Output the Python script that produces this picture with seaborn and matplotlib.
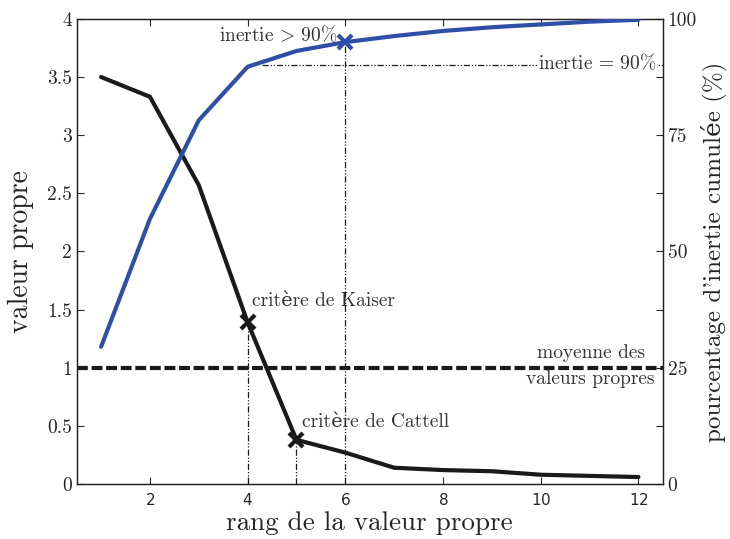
import matplotlib
matplotlib.use("Agg")
import matplotlib.pyplot as plt
import pandas as pd
import seaborn as sns

# --- Data ---
rang = [1, 2, 3, 4, 5, 6, 7, 8, 9, 10, 11, 12]
valeurs_propres = [3.50, 3.33, 2.57, 1.39, 0.38, 0.27, 0.14, 0.12, 0.11, 0.08, 0.07, 0.06]
inertie_cumulee = [29.5, 57.0, 78.2, 89.7, 93.1, 95.0, 96.3, 97.4, 98.2, 98.8, 99.4, 99.8]
kaiser = (4, 1.39)
cattell = (5, 0.38)
rang_90 = 6
inertie_90 = 95.0
moyenne = 1.0

df = pd.DataFrame({"rang": rang, "vp": valeurs_propres, "inertie": inertie_cumulee})

sns.set_style("ticks")
plt.rcParams["font.family"] = ["cmr10", "DejaVu Serif"]
plt.rcParams["mathtext.fontset"] = "cm"
plt.rcParams["axes.formatter.use_mathtext"] = True

BLUE = "#2f4fa6"
DARK = "#1a1a1a"
dashdotdot = (0, (5, 1.5, 1, 1.5, 1, 1.5))

fig = plt.figure(figsize=(7.3, 5.39), dpi=100)
ax = fig.add_axes([0.105, 0.102, 0.803, 0.863])
ax2 = ax.twinx()

# eigenvalues
sns.lineplot(data=df, x="rang", y="vp", color=DARK, lw=3, ax=ax, zorder=4)
# cumulative inertia
sns.lineplot(data=df, x="rang", y="inertie", color=BLUE, lw=3, ax=ax2, zorder=4)

# mean eigenvalue
ax.axhline(moyenne, color=DARK, lw=3, dashes=(2.6, 0.9), zorder=3)

# guide lines
ax.plot([kaiser[0], kaiser[0]], [0, kaiser[1]], color=DARK, lw=0.9, ls=dashdotdot)
ax.plot([cattell[0], cattell[0]], [0, cattell[1]], color=DARK, lw=0.9, ls=dashdotdot)
ax2.plot([rang_90, rang_90], [0, inertie_90], color=DARK, lw=0.9, ls=dashdotdot)
ax2.plot([4.3, 12.5], [90, 90], color=DARK, lw=0.9, ls=dashdotdot)

# markers
ax.plot(*kaiser, marker="x", ms=10, mew=3, color=DARK, zorder=5)
ax.plot(*cattell, marker="x", ms=10, mew=3, color=DARK, zorder=5)
ax2.plot(rang_90, inertie_90, marker="x", ms=10, mew=3, color=BLUE, zorder=5)

# annotations
txt = dict(fontsize=14, color="#333333")
ax.text(4.08, 1.57, "critère de Kaiser", ha="left", va="center", **txt)
ax.text(5.11, 0.53, "critère de Cattell", ha="left", va="center", **txt)
ax.text(11.02, 1.13, "moyenne des", ha="center", va="center", **txt)
ax.text(11.02, 0.90, "valeurs propres", ha="center", va="center", **txt)
ax2.text(5.83, 96.6, r"inertie$\,>\,$90%", ha="right", va="center", **txt)
ax2.text(12.36, 90.6, r"inertie$\,=\,$90%", ha="right", va="center",
         bbox=dict(facecolor="white", edgecolor="none", pad=0.5), zorder=6, **txt)

# axes
ax.set_xlim(0.5, 12.5)
ax.set_ylim(0, 4)
ax2.set_ylim(0, 100)
ax.set_xticks([2, 4, 6, 8, 10, 12])
ax.set_yticks([0, 0.5, 1, 1.5, 2, 2.5, 3, 3.5, 4])
ax.set_yticklabels(["0", "0.5", "1", "1.5", "2", "2.5", "3", "3.5", "4"])
ax2.set_yticks([0, 12.5, 25, 37.5, 50, 62.5, 75, 87.5, 100])
ax2.set_yticklabels(["0", "", "25", "", "50", "", "75", "", "100"])
for lab in ax.get_xticklabels():
    lab.set_fontfamily("DejaVu Sans")
ax.tick_params(axis="x", direction="in", top=True, labelsize=11, length=5, pad=6)
ax.tick_params(axis="y", direction="in", labelsize=14, length=5)
ax2.tick_params(axis="y", direction="in", labelsize=14, length=5)

ax.set_xlabel("rang de la valeur propre", fontsize=19.5, va="baseline")
ax.xaxis.set_label_coords(0.5, -0.099)
ax.set_ylabel("valeur propre", fontsize=20)
ax.yaxis.set_label_coords(-0.073, 0.5)
ax2.set_ylabel("pourcentage d'inertie cumulée (%)", fontsize=18, rotation=90, va="center")
ax2.yaxis.set_label_coords(1.087, 0.5)

for a in (ax, ax2):
    for s in a.spines.values():
        s.set_visible(True)
        s.set_linewidth(0.9)
        s.set_color("#222222")

fig.savefig("out.png", dpi=100)
